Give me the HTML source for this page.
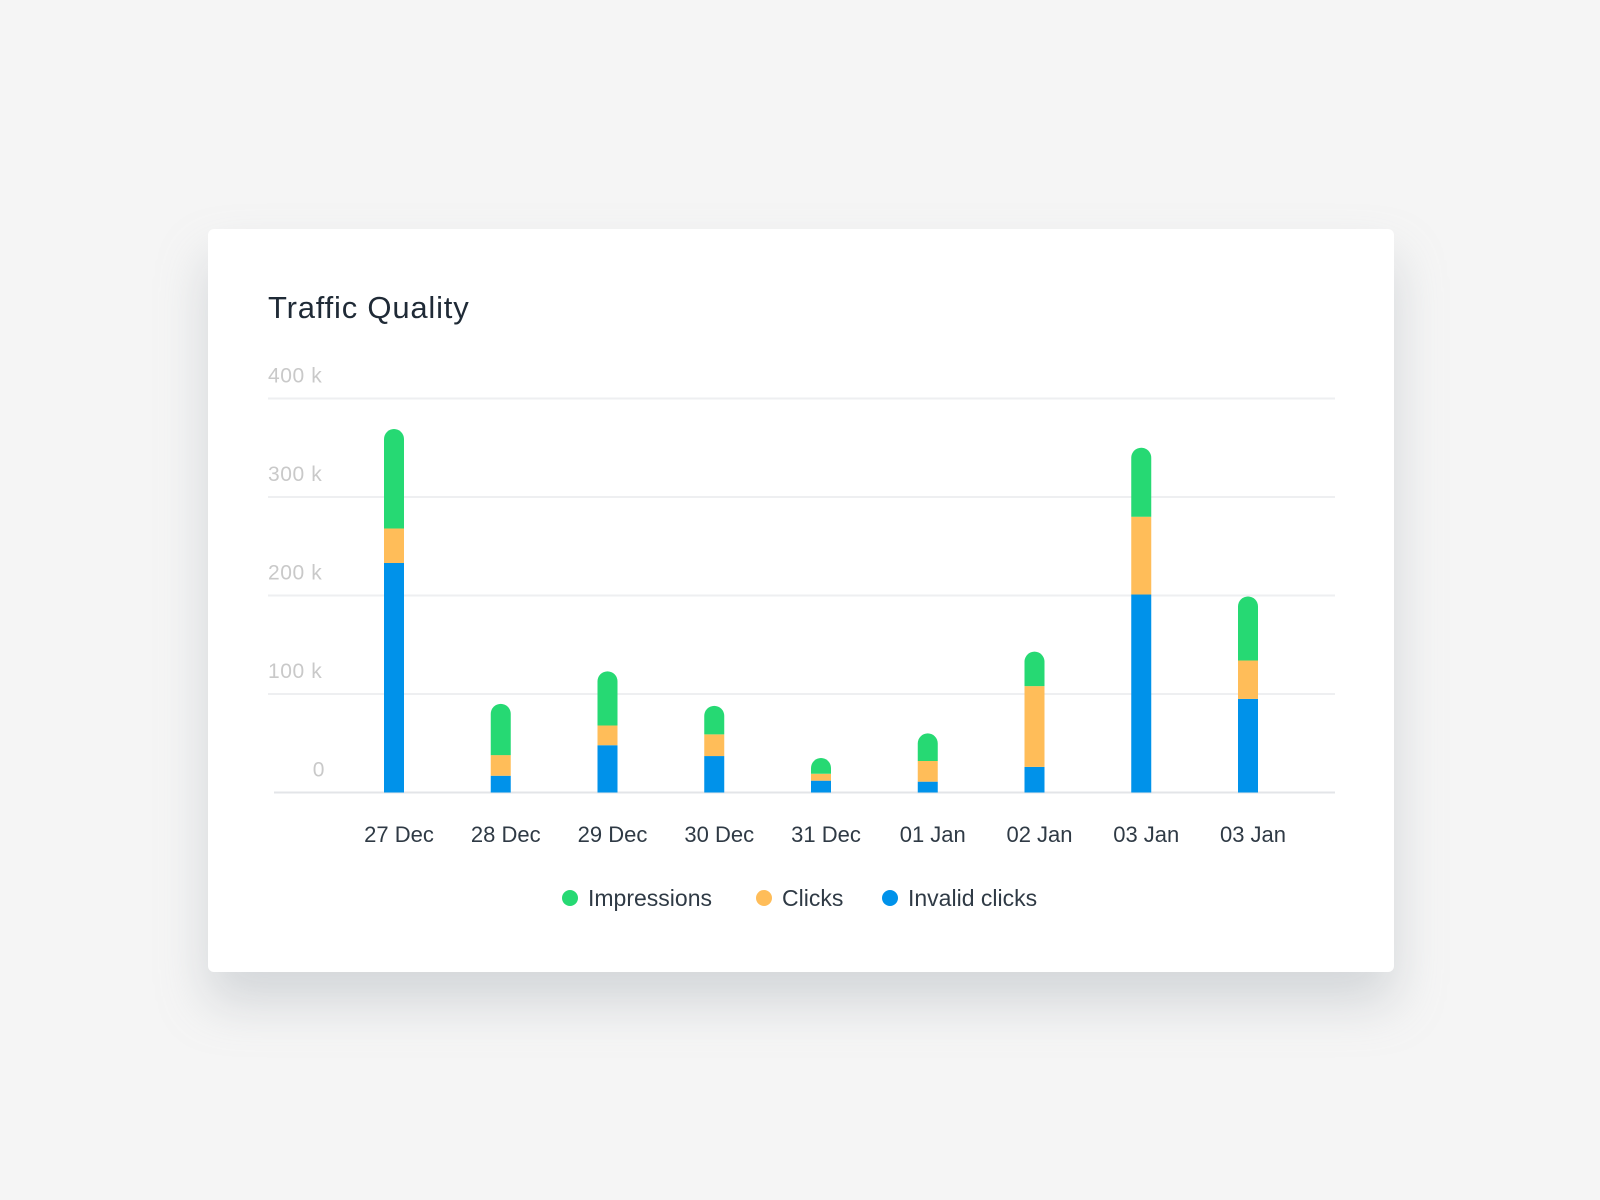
<!DOCTYPE html>
<html><head><meta charset="utf-8"><style>
html,body{margin:0;padding:0;width:1600px;height:1200px;background:#f5f5f5;overflow:hidden;font-family:"Liberation Sans","DejaVu Sans",sans-serif}
#card{position:absolute;left:208px;top:229px;width:1186px;height:743px;background:#fff;border-radius:6px;box-shadow:0 30px 50px rgba(150,158,165,0.35)}
svg{position:absolute;left:0;top:0}
</style></head><body>
<div id="card"></div>
<svg id="chart" width="1600" height="1200">
<text x="268" y="318" font-size="31" letter-spacing="0.8" fill="#1f2a36">Traffic Quality</text>
<g id="grid"></g><g id="bars"></g><g id="xlabels"></g>
<g font-size="23" fill="#2f3a45">
<circle cx="570" cy="898" r="8" fill="#26d973"/>
<text x="588" y="906">Impressions</text>
<circle cx="764" cy="898" r="8" fill="#ffbd59"/>
<text x="782" y="906">Clicks</text>
<circle cx="890" cy="898" r="8" fill="#0092ea"/>
<text x="908" y="906">Invalid clicks</text>
</g>
</svg>
<script>
const categories=["27 Dec","28 Dec","29 Dec","30 Dec","31 Dec","01 Jan","02 Jan","03 Jan","03 Jan"];
const invalidClicks=[233,17,48,37,12,11,26,201,95];
const clicks=[35,21,20,22,7,21,82,79,39];
const impressions=[101,52,55,29,16,28,35,70,65];
const yTicks=[0,100,200,300,400];
const yTickLabels=["0","100 k","200 k","300 k","400 k"];

const NS="http://www.w3.org/2000/svg";
const y0=792.5, pxPerK=0.985, xFirst=394, xLast=1248, barW=20;
function y(v){return y0-v*pxPerK;}
function x(i){return xFirst+i*(xLast-xFirst)/(categories.length-1);}
function mk(tag,attrs,parent){const e=document.createElementNS(NS,tag);for(const k in attrs)e.setAttribute(k,attrs[k]);parent.appendChild(e);return e;}
const grid=document.getElementById('grid'),bars=document.getElementById('bars'),xl=document.getElementById('xlabels');
yTicks.forEach((t,i)=>{
  const ln=mk('line',{x1:t===0?274:268,x2:1335,y1:y(t),y2:y(t),stroke:t===0?'#e3e5e8':'#eeeff1','stroke-width':2},grid);
  
  
  const tx=mk('text',{x:t===0?325:268,y:y(t)-16,'font-size':21,'letter-spacing':0.6,fill:'#c9c9c9','text-anchor':t===0?'end':'start'},grid);
  tx.textContent=yTickLabels[i];
  
  
});
categories.forEach((c,i)=>{
  const cx=x(i), l=cx-barW/2;
  const a=invalidClicks[i], b=a+clicks[i], t=b+impressions[i];
  const r1=mk('rect',{x:l,y:y(a),width:barW,height:y(0)-y(a),fill:'#0092ea'},bars);
  
  
  const r2=mk('rect',{x:l,y:y(b),width:barW,height:y(a)-y(b),fill:'#ffbd59'},bars);
  
  
  const rr=10, yt=y(t), yb=y(b);
  const p=mk('path',{d:`M${l},${yb} L${l},${yt+rr} A${rr},${rr} 0 0 1 ${l+barW},${yt+rr} L${l+barW},${yb} Z`,fill:'#26d973'},bars);
  
  
  const tx=mk('text',{x:cx+5,y:842,'font-size':22,fill:'#2f3a45','text-anchor':'middle'},xl);
  tx.textContent=c;
  
  
});
</script>
</body></html>
